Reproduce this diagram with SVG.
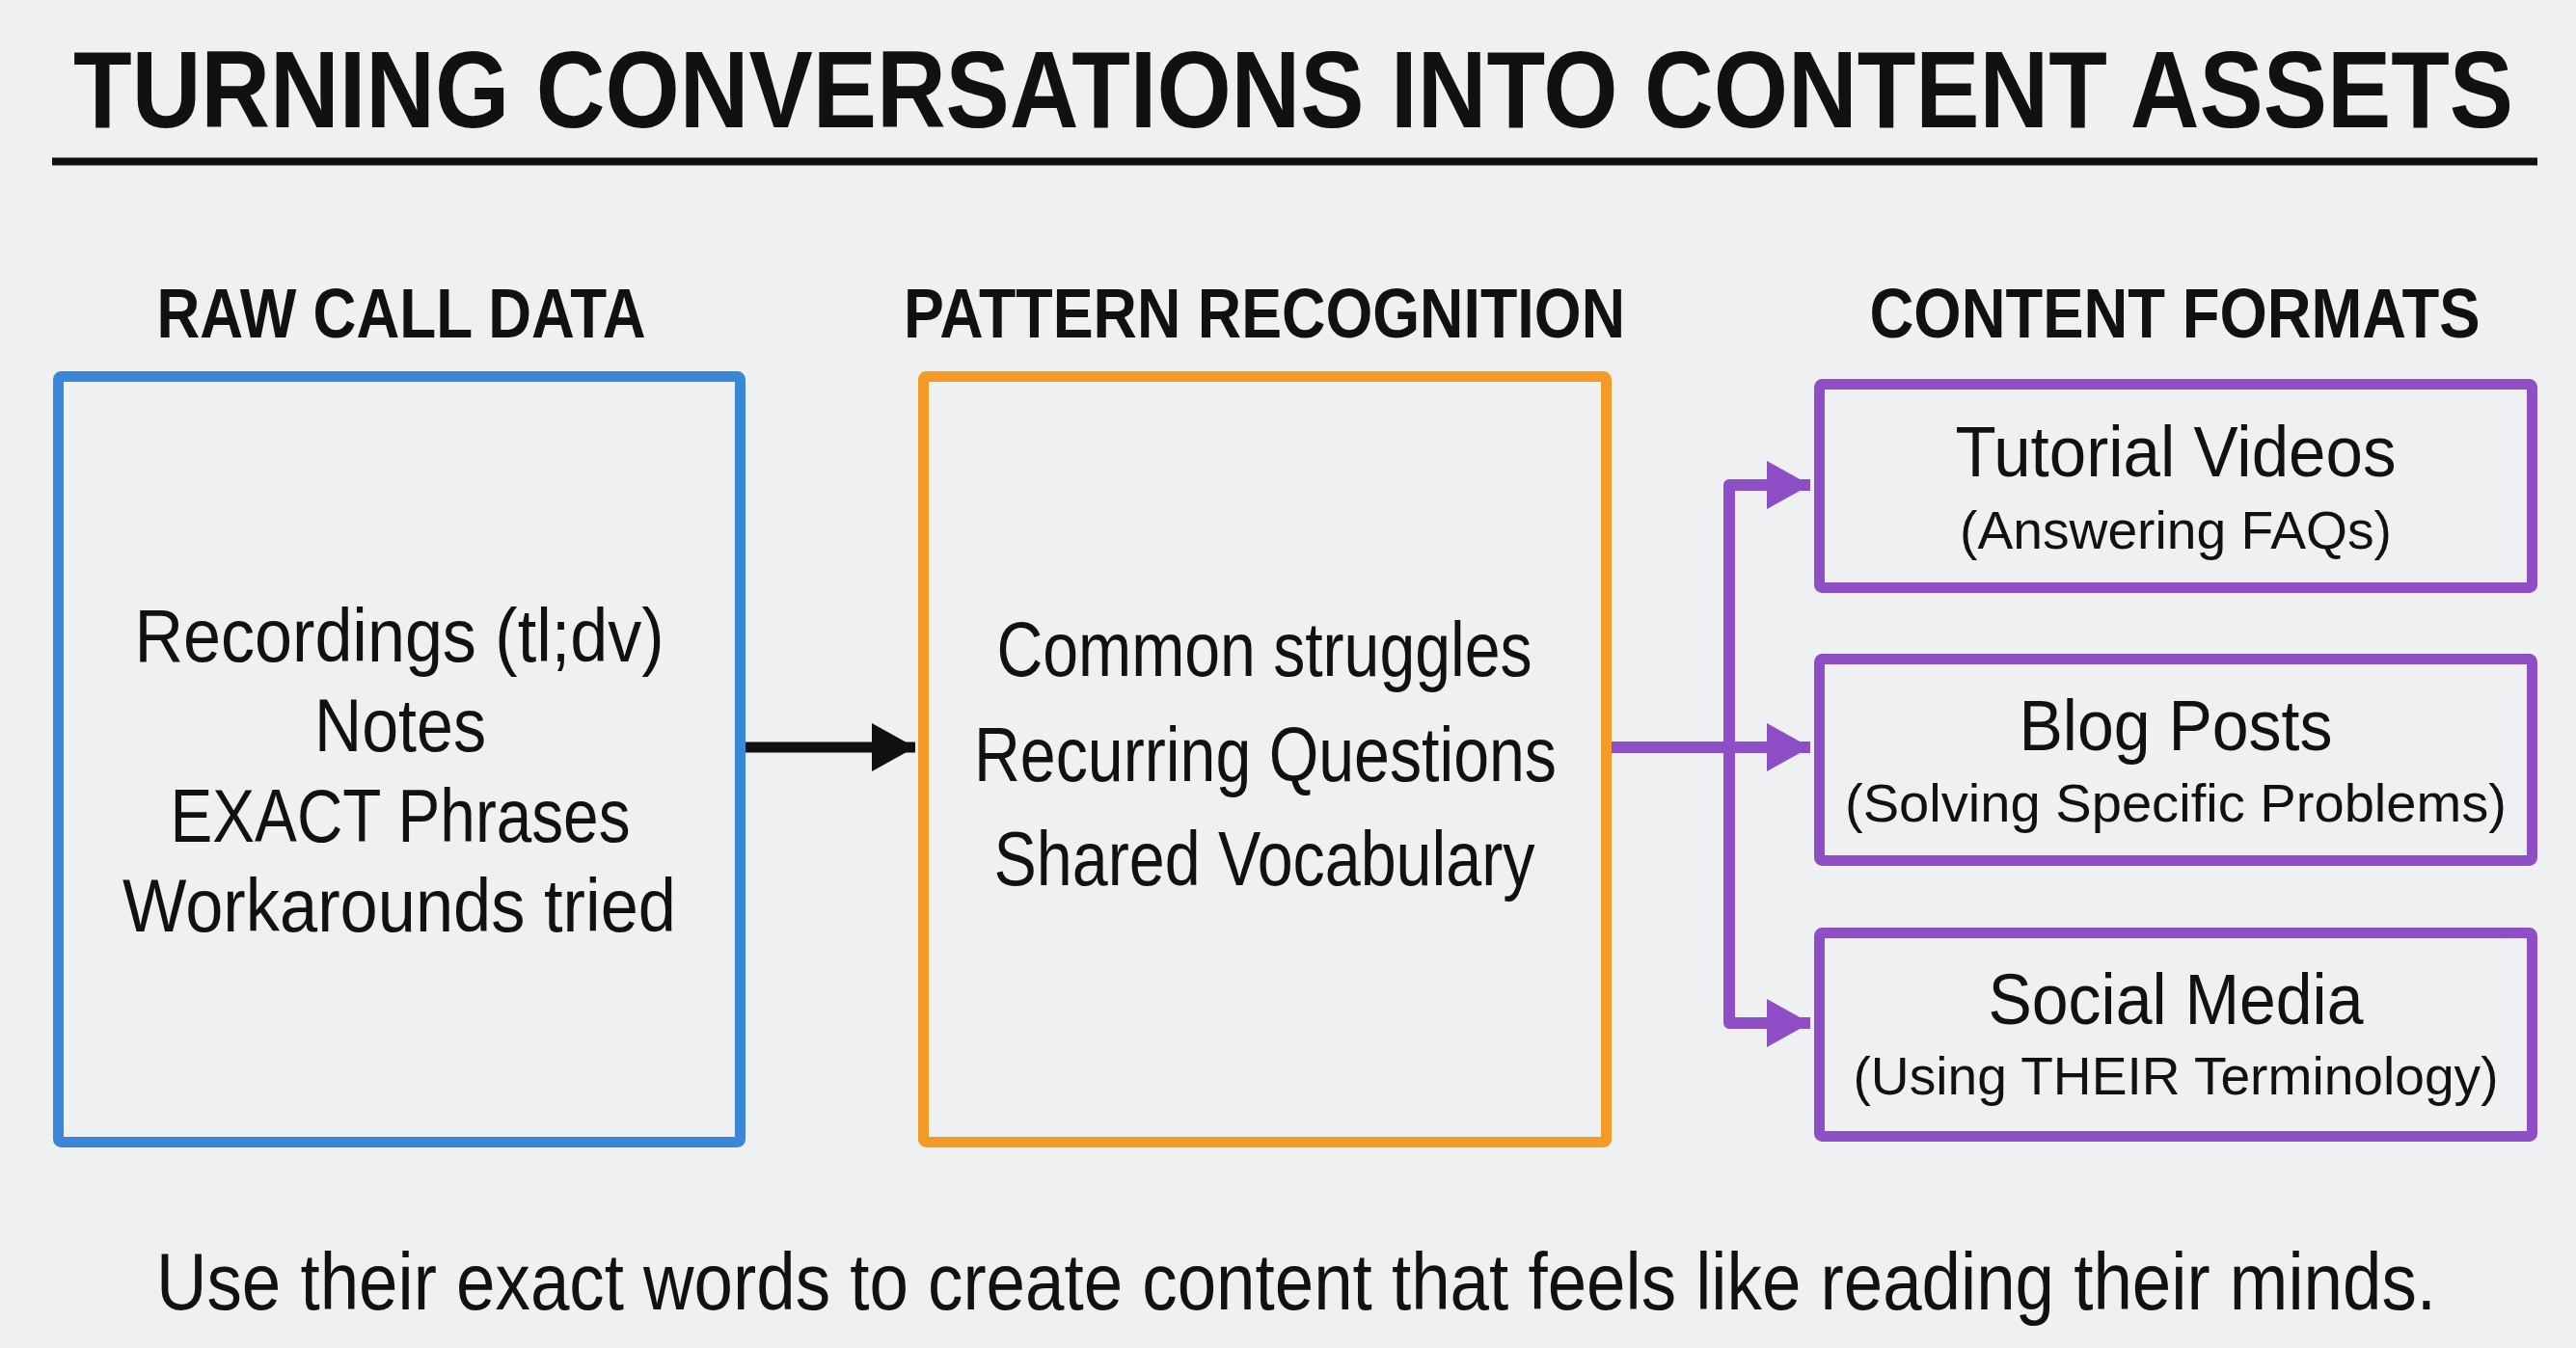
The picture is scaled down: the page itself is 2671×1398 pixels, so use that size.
<svg xmlns="http://www.w3.org/2000/svg" width="2671" height="1398" viewBox="0 0 2671 1398">
<style>
text{font-family:"Liberation Sans",Arial,sans-serif;fill:#111;text-anchor:middle}
.title{font-size:99px;font-weight:bold}
.hdr{font-size:72px;font-weight:bold}
.body{font-size:77px}
.mid{font-size:80px}
.pt{font-size:74px}
.ps{font-size:56px}
.foot{font-size:72.7px}
.box{fill:none;stroke-width:11}
.blue{stroke:#3a86d8}
.orange{stroke:#f39a27}
.purple{stroke:#8e4ec6}
.pl{fill:none;stroke:#8e4ec6;stroke-width:12;stroke-linejoin:round}
</style>
<defs>
<marker id="ahP" markerUnits="userSpaceOnUse" markerWidth="46" markerHeight="50" refX="45" refY="25" orient="auto">
<polygon points="0,0 45,25 0,50" fill="#8e4ec6"/>
</marker>
<marker id="ahK" markerUnits="userSpaceOnUse" markerWidth="46" markerHeight="50" refX="45" refY="25" orient="auto">
<polygon points="0,0 45,25 0,50" fill="#111"/>
</marker>
</defs>
<rect width="2671" height="1398" fill="#eef0f2"/>
<g id="title">
<g transform="translate(1341,132) scale(1,1.134)">
<text class="title" x="0" y="0" textLength="2530" lengthAdjust="spacingAndGlyphs">TURNING CONVERSATIONS INTO CONTENT ASSETS</text>
</g>
<line x1="54" y1="167.5" x2="2631" y2="167.5" stroke="#111" stroke-width="8"/>
</g>
<g id="headers">
<text class="hdr" x="416" y="350" textLength="507" lengthAdjust="spacingAndGlyphs">RAW CALL DATA</text>
<text class="hdr" x="1311" y="350" textLength="748" lengthAdjust="spacingAndGlyphs">PATTERN RECOGNITION</text>
<text class="hdr" x="2255" y="350" textLength="633" lengthAdjust="spacingAndGlyphs">CONTENT FORMATS</text>
</g>
<g id="raw-call-data">
<rect class="box blue" x="60.5" y="390.5" width="707" height="794" rx="3"/>
<text class="body" x="414" y="686" textLength="549" lengthAdjust="spacingAndGlyphs">Recordings (tl;dv)</text>
<text class="body" x="415" y="779" textLength="178" lengthAdjust="spacingAndGlyphs">Notes</text>
<text class="body" x="415" y="873" textLength="477" lengthAdjust="spacingAndGlyphs">EXACT Phrases</text>
<text class="body" x="414" y="966" textLength="574" lengthAdjust="spacingAndGlyphs">Workarounds tried</text>
</g>
<g id="pattern-recognition">
<rect class="box orange" x="957.5" y="390.5" width="708" height="794" rx="3"/>
<text class="mid" x="1311" y="701" textLength="555" lengthAdjust="spacingAndGlyphs">Common struggles</text>
<text class="mid" x="1312" y="810" textLength="604" lengthAdjust="spacingAndGlyphs">Recurring Questions</text>
<text class="mid" x="1311" y="918" textLength="561" lengthAdjust="spacingAndGlyphs">Shared Vocabulary</text>
</g>
<g id="tutorial-videos">
<rect class="box purple" x="1886.5" y="398.5" width="739" height="211" rx="3"/>
<text class="pt" x="2256" y="494" textLength="457" lengthAdjust="spacingAndGlyphs">Tutorial Videos</text>
<text class="ps" x="2256" y="569" textLength="448" lengthAdjust="spacingAndGlyphs">(Answering FAQs)</text>
</g>
<g id="blog-posts">
<rect class="box purple" x="1886.5" y="683.5" width="739" height="209" rx="3"/>
<text class="pt" x="2256" y="778" textLength="325" lengthAdjust="spacingAndGlyphs">Blog Posts</text>
<text class="ps" x="2256" y="852" textLength="686" lengthAdjust="spacingAndGlyphs">(Solving Specific Problems)</text>
</g>
<g id="social-media">
<rect class="box purple" x="1886.5" y="967.5" width="739" height="211" rx="3"/>
<text class="pt" x="2256" y="1062" textLength="389" lengthAdjust="spacingAndGlyphs">Social Media</text>
<text class="ps" x="2256" y="1135" textLength="669" lengthAdjust="spacingAndGlyphs">(Using THEIR Terminology)</text>
</g>
<g id="connectors">
<line x1="773" y1="775" x2="949" y2="775" stroke="#111" stroke-width="11" marker-end="url(#ahK)"/>
<line class="pl" x1="1671" y1="775" x2="1877" y2="775" marker-end="url(#ahP)"/>
<path class="pl" d="M1877,503 H1793 V1061 H1877" marker-end="url(#ahP)"/>
<line class="pl" x1="1793" y1="503" x2="1877" y2="503" marker-end="url(#ahP)"/>
</g>
<g id="footer">
<g transform="translate(1344,1358) scale(1,1.155)">
<text class="foot" x="0" y="0" textLength="2364" lengthAdjust="spacingAndGlyphs">Use their exact words to create content that feels like reading their minds.</text>
</g>
</g>
</svg>
